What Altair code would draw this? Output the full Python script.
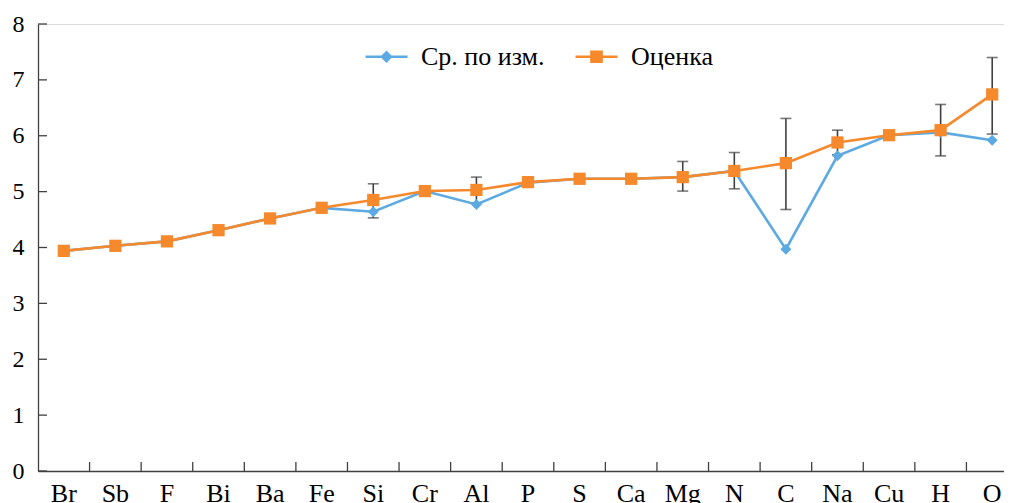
import altair as alt
import pandas as pd

cats = ["Br", "Sb", "F", "Bi", "Ba", "Fe", "Si", "Cr", "Al", "P", "S", "Ca", "Mg", "N", "C", "Na", "Cu", "H", "O"]
est = [3.94, 4.03, 4.11, 4.31, 4.52, 4.71, 4.85, 5.01, 5.03, 5.17, 5.23, 5.23, 5.26, 5.37, 5.51, 5.88, 6.01, 6.10, 6.74]
meas = [3.94, 4.03, 4.11, 4.31, 4.52, 4.71, 4.64, 5.01, 4.77, 5.16, 5.23, 5.23, 5.26, 5.37, 3.97, 5.64, 6.01, 6.06, 5.92]
err_cats = ["Si", "Al", "Mg", "N", "C", "Na", "H", "O"]
err_lo = [4.53, 4.80, 5.01, 5.05, 4.68, 5.66, 5.64, 6.03]
err_hi = [5.14, 5.26, 5.54, 5.70, 6.31, 6.10, 6.56, 7.40]
y_ticks = [0, 1, 2, 3, 4, 5, 6, 7, 8]
series = ["Ср. по изм.", "Оценка"]

BLUE = "#5DA9E1"
ORANGE = "#F5892C"
AXIS = "#404040"
FONT = "Liberation Serif"
W, H = 966, 447
XR = 980  # x range extends past the visible edge, as in the reference

df_est = pd.DataFrame({"cat": cats, "v": est})
df_meas = pd.DataFrame({"cat": cats, "v": meas})
df_err = pd.DataFrame({"cat": err_cats, "lo": err_lo, "hi": err_hi})
df_yt = pd.DataFrame({"v": y_ticks})
df_xt = pd.DataFrame({"cat": cats[1:]})
df_leg = pd.DataFrame({"s": series})

xscale = alt.Scale(type="band", domain=cats, paddingInner=0, paddingOuter=0, range=[0, XR])
yscale = alt.Scale(domain=[0, 8], nice=False)

x_axis = alt.Axis(title=None, labelAngle=0, ticks=False, domainColor=AXIS, domainWidth=1.3,
                  labelFont=FONT, labelFontSize=26, labelColor="black", labelPadding=9)
y_axis = alt.Axis(title=None, values=y_ticks, format="d", ticks=False, grid=False, domainColor=AXIS,
                  domainWidth=1.3, labelFont=FONT, labelFontSize=24, labelColor="black", labelPadding=14)

X = lambda **kw: alt.X("cat:N", scale=xscale, axis=x_axis, sort=None, **kw)

base_axes = alt.Chart(df_meas).mark_point(opacity=0).encode(
    x=X(), y=alt.Y("v:Q", scale=yscale, axis=y_axis)
)

ytick = alt.Chart(df_yt).mark_rule(color=AXIS, strokeWidth=1.3).encode(
    y=alt.Y("v:Q", scale=yscale), x=alt.value(0), x2=alt.value(9)
)
xtick = alt.Chart(df_xt).mark_rule(color=AXIS, strokeWidth=1.3).encode(
    x=X(bandPosition=0), y=alt.value(H - 9), y2=alt.value(H)
)

err_rule = alt.Chart(df_err).mark_rule(color=AXIS, strokeWidth=1.6).encode(
    x=X(), y=alt.Y("lo:Q", scale=yscale), y2="hi:Q"
)
err_lo_t = alt.Chart(df_err).mark_tick(color=AXIS, size=11, thickness=1.6).encode(
    x=X(), y=alt.Y("lo:Q", scale=yscale)
)
err_hi_t = alt.Chart(df_err).mark_tick(color=AXIS, size=11, thickness=1.6).encode(
    x=X(), y=alt.Y("hi:Q", scale=yscale)
)

blue_line = alt.Chart(df_meas).mark_line(color=BLUE, strokeWidth=2.6).encode(
    x=X(), y=alt.Y("v:Q", scale=yscale)
)
blue_pts = alt.Chart(df_meas).mark_point(shape="diamond", filled=True, color=BLUE, size=121, opacity=1).encode(
    x=X(), y=alt.Y("v:Q", scale=yscale)
)
or_line = alt.Chart(df_est).mark_line(color=ORANGE, strokeWidth=2.6).encode(
    x=X(), y=alt.Y("v:Q", scale=yscale)
)
or_pts = alt.Chart(df_est).mark_point(shape="square", filled=True, color=ORANGE, size=150, opacity=1).encode(
    x=X(), y=alt.Y("v:Q", scale=yscale)
)

legend = alt.Legend(
    title=None, orient="none", direction="horizontal", legendX=326, legendY=10,
    labelFont=FONT, labelFontSize=26, labelColor="black", labelOffset=12,
    columnPadding=25, symbolSize=1764, symbolStrokeWidth=2.6, padding=0, labelLimit=400,
)
paths = [
    "M-1,0L1,0M0,-0.21L0.21,0L0,0.21L-0.21,0Z",
    "M-1,0L1,0M-0.24,-0.24L0.24,-0.24L0.24,0.24L-0.24,0.24Z",
]
leg_layer = alt.Chart(df_leg).transform_filter("false").mark_point(filled=True, opacity=1).encode(
    fill=alt.Fill("s:N", scale=alt.Scale(domain=series, range=[BLUE, ORANGE]), legend=legend),
    stroke=alt.Stroke("s:N", scale=alt.Scale(domain=series, range=[BLUE, ORANGE]), legend=legend),
    shape=alt.Shape("s:N", scale=alt.Scale(domain=series, range=paths), legend=legend),
)

chart = alt.layer(
    base_axes, ytick, xtick, err_rule, err_lo_t, err_hi_t,
    blue_line, blue_pts, or_line, or_pts, leg_layer,
).properties(
    width=W, height=H,
    autosize=alt.AutoSizeParams(type="none"),
    padding={"left": 30, "top": 16, "right": 0, "bottom": 32},
).configure_view(stroke=None).configure(background="white", font=FONT).configure_legend(
    labelFont=FONT, labelFontSize=26
)

chart.save("out.html", embed_options={"renderer": "svg", "actions": False})
